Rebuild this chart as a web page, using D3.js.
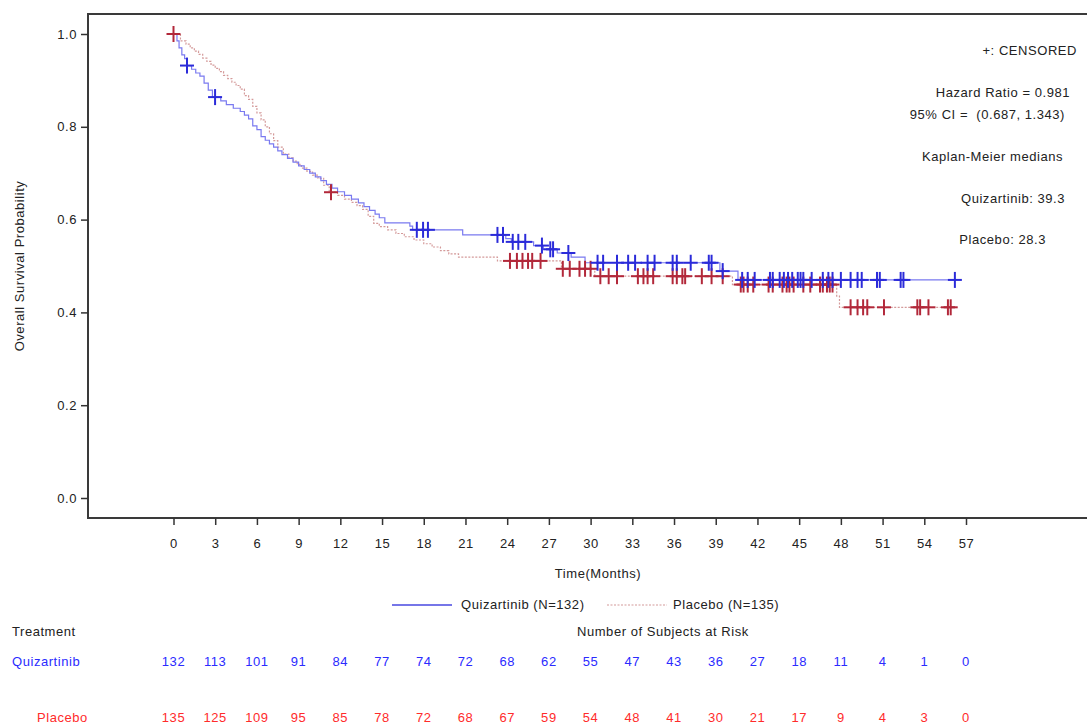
<!DOCTYPE html>
<html lang="en">
<head>
<meta charset="utf-8">
<title>Overall Survival KM</title>
<script src="https://d3js.org/d3.v7.min.js"></script>
<style>
  body { margin: 0; background: #fff; }
  text { font-family: "Liberation Sans", Arial, sans-serif; fill: #222; letter-spacing: 0.55px; }
</style>
</head>
<body>
<script>
// x axis months and y ticks
var months = [0,3,6,9,12,15,18,21,24,27,30,33,36,39,42,45,48,51,54,57];
var yTicks = [0, 0.2, 0.4, 0.6, 0.8, 1.0];

// Kaplan-Meier steps [month, survival after the drop]
var quizSteps = [[0,1],[0.25,0.985],[0.4,0.970],[0.6,0.955],[0.8,0.947],[0.95,0.932],[1.3,0.924],[1.6,0.916],
  [1.9,0.909],[2.2,0.894],[2.5,0.879],[2.8,0.864],[3.4,0.856],[3.8,0.848],[4.3,0.840],[4.8,0.833],
  [5.1,0.825],[5.4,0.817],[5.7,0.802],[6.0,0.794],[6.3,0.779],[6.6,0.771],[6.9,0.763],[7.2,0.756],
  [7.5,0.748],[7.8,0.740],[8.2,0.732],[8.6,0.724],[9.0,0.716],[9.4,0.708],[9.8,0.700],[10.2,0.692],
  [10.6,0.684],[11.0,0.676],[11.4,0.668],[11.8,0.660],[12.3,0.652],[12.8,0.644],[13.3,0.636],
  [13.7,0.628],[14.1,0.620],[14.5,0.612],[14.8,0.604],[15.2,0.593],[17.0,0.586],[17.2,0.578],
  [20.8,0.567],[23.9,0.559],[24.3,0.552],[25.9,0.544],[26.6,0.536],[27.6,0.528],[28.6,0.519],
  [29.6,0.507],[39.3,0.489],[40.6,0.470]];
var placSteps = [[0,1],[0.5,0.985],[0.9,0.978],[1.2,0.970],[1.5,0.963],[1.8,0.956],[2.1,0.948],[2.4,0.941],
  [2.7,0.933],[3.0,0.926],[3.3,0.919],[3.6,0.911],[3.9,0.904],[4.2,0.896],[4.5,0.889],[4.8,0.881],
  [5.1,0.867],[5.4,0.859],[5.7,0.844],[6.0,0.830],[6.3,0.815],[6.6,0.800],[6.9,0.785],[7.2,0.770],
  [7.5,0.756],[7.9,0.741],[8.3,0.733],[8.6,0.726],[8.9,0.719],[9.2,0.711],[9.6,0.704],[10.0,0.696],
  [10.4,0.689],[10.8,0.674],[11.2,0.659],[11.8,0.652],[12.3,0.644],[12.8,0.637],[13.2,0.630],
  [13.6,0.622],[14.0,0.607],[14.4,0.592],[14.8,0.585],[15.4,0.578],[16.0,0.570],[16.6,0.563],
  [17.3,0.556],[18.0,0.548],[18.6,0.541],[19.2,0.533],[19.8,0.526],[20.5,0.519],[23.3,0.511],
  [27.9,0.494],[30.3,0.478],[40.2,0.460],[47.7,0.435],[47.9,0.411]];

// censored times (months)
var quizCens = [0.97,2.99,17.5,17.95,18.3,23.3,23.7,24.4,24.8,25.3,26.5,27.1,27.3,28.4,30.5,30.9,31.9,
  32.7,33.2,34.1,34.6,35.9,36.2,37.2,38.5,38.7,39.5,40.9,41.3,41.8,42.9,43.1,43.6,43.9,44.2,44.5,
  44.9,45.1,45.3,45.9,46.7,47.1,47.4,48.0,48.7,49.2,49.5,50.6,50.8,52.3,52.5,56.2];
var placCens = [0,11.33,24.2,24.7,25.1,25.5,25.8,26.4,28.0,28.5,29.2,29.6,30.0,30.7,31.3,31.9,33.4,33.8,
  34.1,34.5,35.9,36.2,36.6,36.8,38.0,38.7,39.5,40.8,41.0,41.3,41.7,42.8,43.1,43.8,44.1,44.3,44.6,
  45.3,45.8,46.5,46.7,47.0,47.2,47.4,48.7,49.2,49.6,49.9,51.1,53.5,53.7,54.3,55.7,55.9];

// numbers at risk
var quizRisk = [132,113,101,91,84,77,74,72,68,62,55,47,43,36,27,18,11,4,1,0];
var placRisk = [135,125,109,95,85,78,72,68,67,59,54,48,41,30,21,17,9,4,3,0];

var notes = ["+: CENSORED", "Hazard Ratio = 0.981", "95% CI =  (0.687, 1.343)",
  "Kaplan-Meier medians", "Quizartinib: 39.3", "Placebo: 28.3"];

var W = 1087, H = 727;
var fs = 13;
var blue = "#2b2bd9", blueLine = "#7a7af0", red = "#b2283a", redLine = "#d49a9a";

var svg = d3.select("body").append("svg").attr("width", W).attr("height", H);

var x = d3.scaleLinear().domain([0, 57]).range([173.5, 966]);
var y = d3.scaleLinear().domain([0, 1]).range([498, 34]);

// frame (right edge runs off the page)
svg.append("rect").attr("x", 88).attr("y", 14).attr("width", 1010).attr("height", 504)
  .attr("fill", "none").attr("stroke", "#3a3a3a").attr("stroke-width", 2);

// y axis
var yAxis = svg.append("g").attr("transform", "translate(88,0)")
  .call(d3.axisLeft(y).tickValues(yTicks).tickFormat(d3.format(".1f")).tickSize(7).tickPadding(4));
yAxis.select(".domain").remove();
yAxis.selectAll("line").attr("stroke", "#333").attr("stroke-width", 1.5);
yAxis.selectAll("text").attr("font-size", fs).attr("fill", "#333")
  .style("font-family", "Liberation Sans, Arial, sans-serif");

// x axis
var xAxis = svg.append("g").attr("transform", "translate(0,518)")
  .call(d3.axisBottom(x).tickValues(months).tickSize(7).tickPadding(14));
xAxis.select(".domain").remove();
xAxis.selectAll("line").attr("stroke", "#333").attr("stroke-width", 1.5);
xAxis.selectAll("text").attr("font-size", fs).attr("fill", "#333")
  .style("font-family", "Liberation Sans, Arial, sans-serif");

svg.append("text").attr("x", 598).attr("y", 578).attr("text-anchor", "middle")
  .attr("font-size", fs).text("Time(Months)");
svg.append("text").attr("transform", "translate(24,266) rotate(-90)").attr("text-anchor", "middle")
  .attr("font-size", fs).text("Overall Survival Probability");

// step value lookup
function survAt(steps, t) {
  var s = 1;
  steps.forEach(function(d) { if (d[0] <= t) s = d[1]; });
  return s;
}

var line = d3.line().x(function(d) { return x(d[0]); }).y(function(d) { return y(d[1]); })
  .curve(d3.curveStepAfter);

var quizPath = quizSteps.concat([[56.2, survAt(quizSteps, 56.2)]]);
var placPath = placSteps.concat([[55.9, survAt(placSteps, 55.9)]]);

svg.append("path").datum(placPath).attr("d", line).attr("fill", "none")
  .attr("stroke", redLine).attr("stroke-width", 1.2).attr("stroke-dasharray", "2,1.5");
svg.append("path").datum(quizPath).attr("d", line).attr("fill", "none")
  .attr("stroke", blueLine).attr("stroke-width", 1.2);

function drawCensors(times, steps, color) {
  var g = svg.append("g").attr("stroke", color).attr("stroke-width", 2);
  times.forEach(function(t) {
    var cx = x(t), cy = y(survAt(steps, t));
    g.append("line").attr("x1", cx - 7).attr("x2", cx + 7).attr("y1", cy).attr("y2", cy);
    g.append("line").attr("x1", cx).attr("x2", cx).attr("y1", cy - 8).attr("y2", cy + 8);
  });
}
drawCensors(placCens, placSteps, red);
drawCensors(quizCens, quizSteps, blue);

// notes top right
var noteY = [51, 93, 115, 157, 199, 240];
var noteX = [1077, 1070, 1065, 1063, 1065, 1046];
notes.forEach(function(s, i) {
  svg.append("text").attr("x", noteX[i]).attr("y", noteY[i] + 4).attr("text-anchor", "end")
    .attr("font-size", fs).style("white-space", "pre").text(s);
});

// legend
svg.append("line").attr("x1", 392).attr("x2", 452).attr("y1", 605).attr("y2", 605)
  .attr("stroke", "#4848e0").attr("stroke-width", 1.5);
svg.append("text").attr("x", 461).attr("y", 609).attr("font-size", fs).text("Quizartinib (N=132)");
svg.append("line").attr("x1", 607).attr("x2", 667).attr("y1", 605).attr("y2", 605)
  .attr("stroke", redLine).attr("stroke-width", 1.2).attr("stroke-dasharray", "2,1.5");
svg.append("text").attr("x", 673).attr("y", 609).attr("font-size", fs).text("Placebo (N=135)");

// risk table
svg.append("text").attr("x", 12).attr("y", 636).attr("font-size", fs).text("Treatment");
svg.append("text").attr("x", 577).attr("y", 636).attr("font-size", fs).text("Number of Subjects at Risk");
svg.append("text").attr("x", 12).attr("y", 666).attr("font-size", fs).style("fill", "#2b2bff").text("Quizartinib");
svg.append("text").attr("x", 37).attr("y", 722).attr("font-size", fs).style("fill", "#ff2b2b").text("Placebo");

svg.selectAll(".rq").data(quizRisk).enter().append("text")
  .attr("x", function(d, i) { return x(months[i]); }).attr("y", 666)
  .attr("text-anchor", "middle").attr("font-size", fs).style("fill", "#2b2bff")
  .text(function(d) { return d; });
svg.selectAll(".rp").data(placRisk).enter().append("text")
  .attr("x", function(d, i) { return x(months[i]); }).attr("y", 722)
  .attr("text-anchor", "middle").attr("font-size", fs).style("fill", "#ff2b2b")
  .text(function(d) { return d; });
</script>
</body>
</html>
